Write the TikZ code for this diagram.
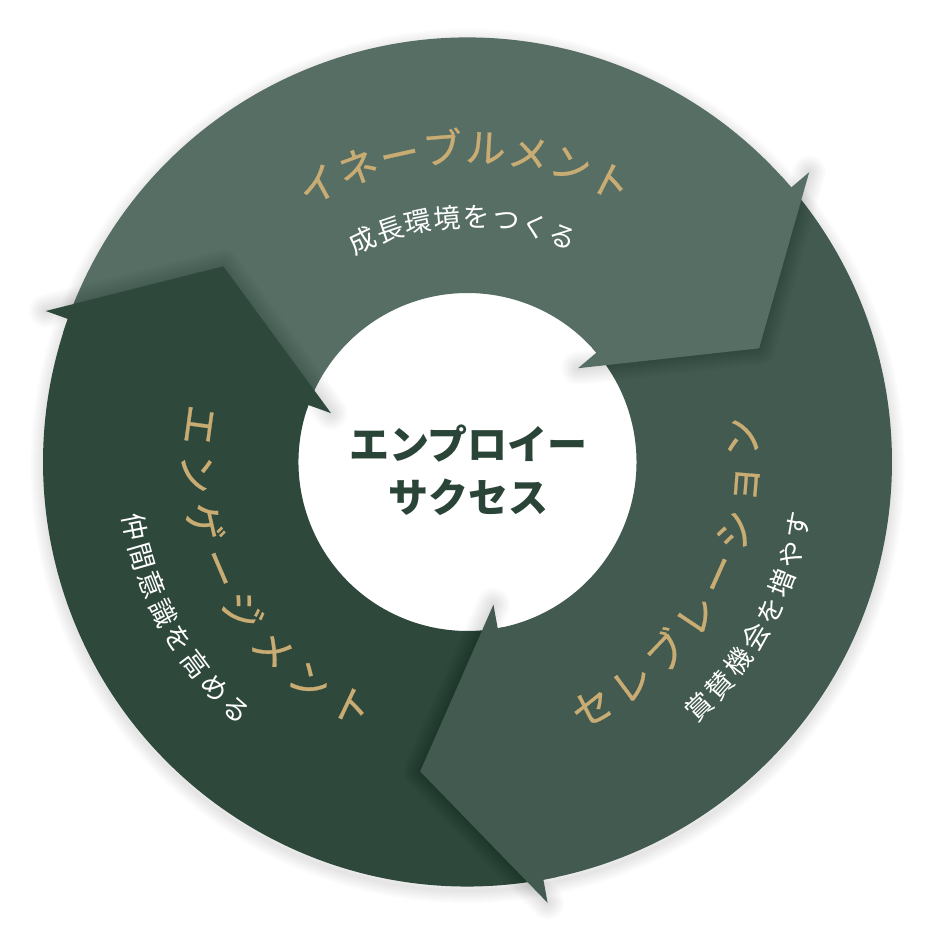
\documentclass[tikz,border=0pt]{standalone}
\usepackage{fontspec}
\newfontfamily\jp{Noto Sans CJK JP}
\newfontfamily\jpt{Noto Sans CJK JP}[FakeBold=0.7]
\usetikzlibrary{calc}
\definecolor{segA}{HTML}{576E65}
\definecolor{segB}{HTML}{425A4F}
\definecolor{segC}{HTML}{2E483C}
\definecolor{gold}{HTML}{C8AC73}
\definecolor{centertxt}{HTML}{2A4437}
\def\Ro{424.5}
\def\Ri{169}
\def\Rbo{448}
\def\Rbi{145}
\def\Ra{313}
\newcommand\ArcText[7]{%
  \foreach \ch [count=\k from 0] in {#7}{%
    \pgfmathsetmacro\ang{#3+\k*(#4)}%
    \node[#2, rotate=\ang+#6] (#1\k) at (\ang:#5) {\ch};
  }}
\tikzset{
  ttl/.style={text=gold, font=\jpt\fontsize{40}{40}\selectfont, inner sep=0pt, text height=35pt, text depth=5pt},
  sub/.style={text=white, font=\jp\fontsize{27}{27}\selectfont, inner sep=0pt, text height=23.6pt, text depth=3.4pt},
  halo/.style={black, opacity=0.007, line join=round, line cap=round}
}
\begin{document}
\begin{tikzpicture}[x=1pt,y=1pt]
\useasboundingbox (-467.5,-478) rectangle (472.5,462);
\fill[white] (-467.5,-478) rectangle (472.5,462);
\coordinate (C) at (0,0);
% outer soft shadow
\foreach \w in {2,4,...,26} \draw[halo, line width=\w pt] (0,-4) circle[radius=\Ro];
% bodies
\fill[segA] (160.3:\Ro) arc[start angle=160.3, end angle=40.3, radius=\Ro] -- (40.3:\Ri) arc[start angle=40.3, end angle=160.3, radius=\Ri] -- cycle;
\fill[segB] (40.3:\Ro) arc[start angle=40.3, end angle=-79.7, radius=\Ro] -- (-79.7:\Ri) arc[start angle=-79.7, end angle=40.3, radius=\Ri] -- cycle;
\fill[segC] (-79.7:\Ro) arc[start angle=-79.7, end angle=-199.7, radius=\Ro] -- (-199.7:\Ri) arc[start angle=-199.7, end angle=-79.7, radius=\Ri] -- cycle;
% head coordinates
\coordinate (aBo) at (40.3:\Rbo);  \coordinate (aA) at (21.3:\Ra);  \coordinate (aBi) at (40.3:\Rbi);
\coordinate (bBo) at (-79.7:\Rbo); \coordinate (bA) at (-98.7:\Ra); \coordinate (bBi) at (-79.7:\Rbi);
\coordinate (cBo) at (160.3:\Rbo); \coordinate (cA) at (141.3:\Ra); \coordinate (cBi) at (160.3:\Rbi);
% head shadows
\foreach \w in {2,4,...,34} {
  \draw[halo, line width=\w pt] (aBo) -- (aA) -- (aBi);
  \draw[halo, line width=\w pt] (bBo) -- (bA) -- (bBi);
  \draw[halo, line width=\w pt] (cBo) -- (cA) -- (cBi);
}
% heads
\fill[segA] (42.3:\Ro) arc[start angle=42.3, end angle=40.3, radius=\Ro] -- (aBo) -- (aA) -- (aBi) -- (40.3:\Ri) arc[start angle=40.3, end angle=42.3, radius=\Ri] -- cycle;
\fill[segB] (-77.7:\Ro) arc[start angle=-77.7, end angle=-79.7, radius=\Ro] -- (bBo) -- (bA) -- (bBi) -- (-79.7:\Ri) arc[start angle=-79.7, end angle=-77.7, radius=\Ri] -- cycle;
\fill[segC] (162.3:\Ro) arc[start angle=162.3, end angle=160.3, radius=\Ro] -- (cBo) -- (cA) -- (cBi) -- (160.3:\Ri) arc[start angle=160.3, end angle=162.3, radius=\Ri] -- cycle;
% texts
\ArcText{tt}{ttl}{118.3}{-7.91}{315}{-90}{イ,ネ,ー,ブ,ル,メ,ン,ト}
\ArcText{ts}{sub}{115.4}{-6.89}{245}{-90}{成,長,環,境,を,つ,く,る}
\ArcText{lt}{ttl}{172.2}{10.34}{270}{90}{エ,ン,ゲ,ー,ジ,メ,ン,ト}
\ArcText{ls}{sub}{191}{5.13}{339}{90}{仲,間,意,識,を,高,め,る}
\ArcText{rt}{ttl}{-63.1}{9.76}{275}{90}{セ,レ,ブ,レ,ー,シ,ョ,ン}
\ArcText{rs}{sub}{-46.6}{5.11}{337}{90}{賞,賛,機,会,を,増,や,す}
\node[font=\jp\bfseries\fontsize{40}{53}\selectfont, text=centertxt, align=center, inner sep=0pt] (center) at (1,-8) {エンプロイー\\サクセス};
\end{tikzpicture}
\end{document}
